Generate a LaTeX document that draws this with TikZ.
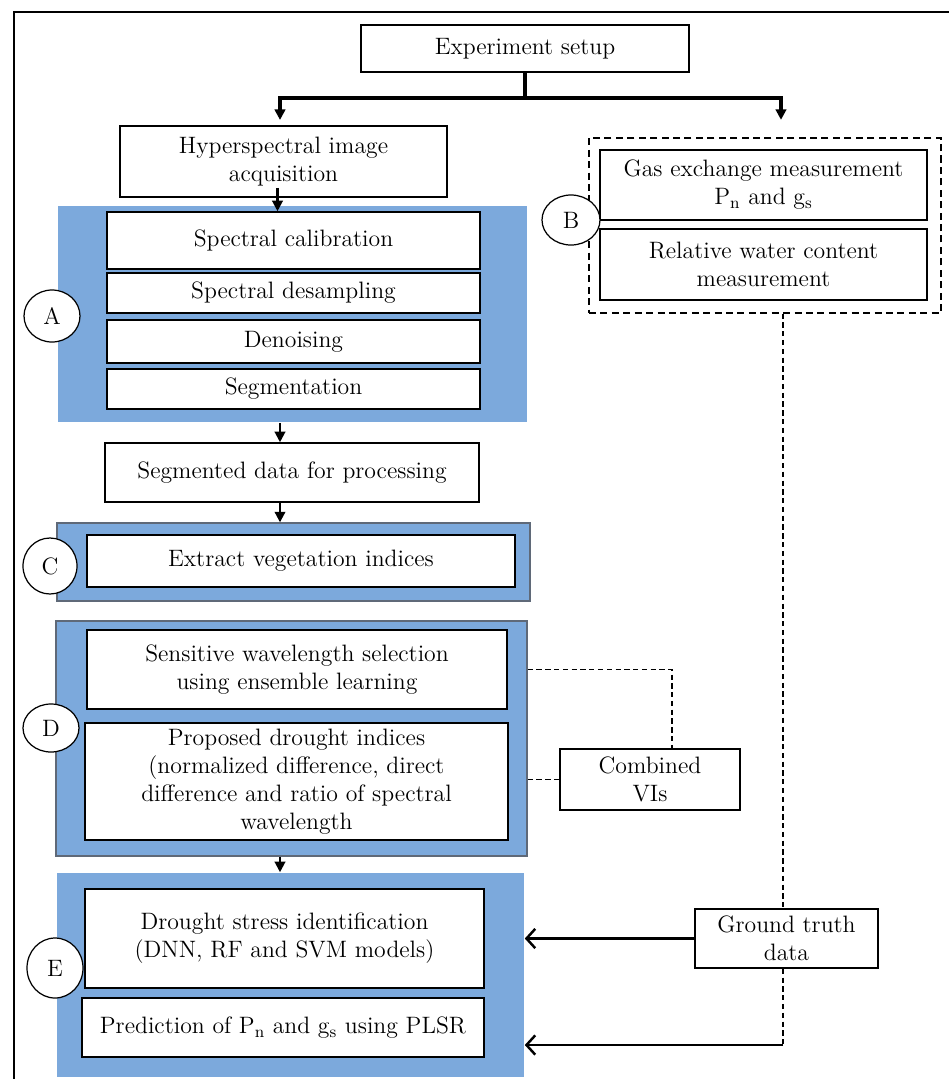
\documentclass[tikz,border=0pt]{standalone}
\usetikzlibrary{arrows.meta,shapes.geometric,calc}
\definecolor{panelblue}{RGB}{124,169,220}
\definecolor{paneledge}{RGB}{95,105,120}
\tikzset{
  x=0.02cm, y=-0.02cm,
  txt/.style={font=\fontsize{13.5}{16}\selectfont},
  box/.style={draw, line width=0.9pt, fill=white, inner sep=0pt, align=center, txt},
  panel/.style={fill=panelblue, draw=none},
  epanel/.style={fill=panelblue, draw=paneledge, line width=0.8pt},
  tag/.style={ellipse, draw, line width=0.7pt, fill=white, inner sep=0pt, txt},
  arr/.style={line width=1.2pt, -{Triangle[length=6pt,width=6pt]}},
  trunk/.style={line width=1.8pt},
  gtarr/.style={line width=1.6pt, -{Straight Barb[length=5pt,width=11pt,line width=1.4pt]}},
  dline/.style={line width=0.6pt, dash pattern=on 3pt off 2pt},
  dbox/.style={draw, line width=0.7pt, dash pattern=on 4pt off 2.5pt, fill=none, inner sep=0pt},
}
\newcommand\pbox[7][]{\node[box,#1,minimum width={(#5-#3)*0.02cm},minimum height={(#6-#4)*0.02cm}] (#2) at ({(#3+#5)/2},{(#4+#6)/2}) {#7};}
\newcommand\ptag[6]{\node[tag,minimum width={2*#4*0.02cm},minimum height={2*#5*0.02cm}] (#1) at (#2,#3) {#6};}
\begin{document}
\begin{tikzpicture}
\useasboundingbox (0,0) rectangle (949,1079);
% outer frame
\draw[line width=0.8pt] (14,1079) -- (14,12) -- (949,12);
% coordinates for spines
\coordinate (xa) at (280,0);
\coordinate (xc) at (672,0);
\coordinate (xg) at (783,0);
% top
\pbox{exp}{361}{25}{689}{72}{Experiment setup}
\pbox{hyp}{120}{126}{447}{197}{Hyperspectral image\\acquisition}
% panel A
\pbox[panel]{pa}{58}{206}{527}{422}{}
\pbox{cal}{107}{212}{480}{269}{Spectral calibration}
\pbox{des}{107}{273}{480}{313}{Spectral desampling}
\pbox{den}{107}{320}{480}{363}{Denoising}
\pbox{sgm}{107}{369}{480}{409}{Segmentation}
\ptag{ta}{52}{316}{28}{26}{A}
% panel B
\pbox[dbox]{bbox}{589}{138}{941}{313}{}
\pbox{gas}{600}{150}{927}{220}{Gas exchange measurement\\P\textsubscript{n} and g\textsubscript{s}}
\pbox{rwc}{600}{229}{927}{300}{Relative water content\\measurement}
\ptag{tb}{571}{220}{29}{25}{B}
% segmented
\pbox{seg}{105}{443}{479}{502}{Segmented data for processing}
% panel C
\pbox[epanel]{pc}{57}{523}{530}{601}{}
\pbox{ext}{87}{535}{515}{587}{Extract vegetation indices}
\ptag{tc}{50}{566}{27}{28}{C}
% panel D
\pbox[epanel]{pd}{56}{621}{527}{856}{}
\pbox{sens}{87}{630}{507}{709}{Sensitive wavelength selection\\using ensemble learning}
\pbox{prop}{85}{723}{508}{840}{Proposed drought indices\\(normalized difference, direct\\difference and ratio of spectral\\wavelength}
\ptag{td}{51}{728}{28}{24}{D}
\pbox{comb}{560}{749}{740}{810}{Combined\\VIs}
% panel E
\pbox[panel]{pe}{57}{873}{524}{1077}{}
\pbox{dsi}{85}{889}{484}{988}{Drought stress identification\\(DNN, RF and SVM models)}
\pbox{pred}{82}{998}{484}{1057}{Prediction of P\textsubscript{n} and g\textsubscript{s} using PLSR}
\ptag{te}{55}{968}{28}{30}{E}
\pbox{gt}{695}{909}{878}{968}{Ground truth\\data}
% connectors top
\coordinate (split) at (exp.south |- 0,98);
\draw[trunk] (exp.south) -- (split);
\draw[trunk, arr, line width=1.8pt, shorten >=3pt] (split) -| (hyp.north -| xa);
\draw[trunk, arr, line width=1.8pt, shorten >=10pt] (split) -| ($(bbox.north)+(16,0)$);
\draw[arr] ($(hyp.south)+(-6,-10)$) coordinate (h1) -- (h1 |- cal.north);
% spine
\draw[arr] (pa.south -| xa) -- (seg.north -| xa);
\draw[arr] (seg.south -| xa) -- (pc.north -| xa);
\draw[arr] (pd.south -| xa) -- (pe.north -| xa);
% combined VIs dashed
\draw[dline] (pd.east |- sens.east) -| (xc |- comb.north);
\draw[dline] (pd.east |- comb.west) -- (comb.west);
% ground truth
\draw[dline] (bbox.south -| xg) -- (gt.north -| xg);
\coordinate (corner) at (xg |- 0,1045);
\draw[dline] (gt.south -| xg) -- (corner);
\draw[gtarr] (gt.west) -- (gt.west -| pe.east);
\draw[gtarr] (corner) -- (corner -| pe.east);
\end{tikzpicture}
\end{document}
